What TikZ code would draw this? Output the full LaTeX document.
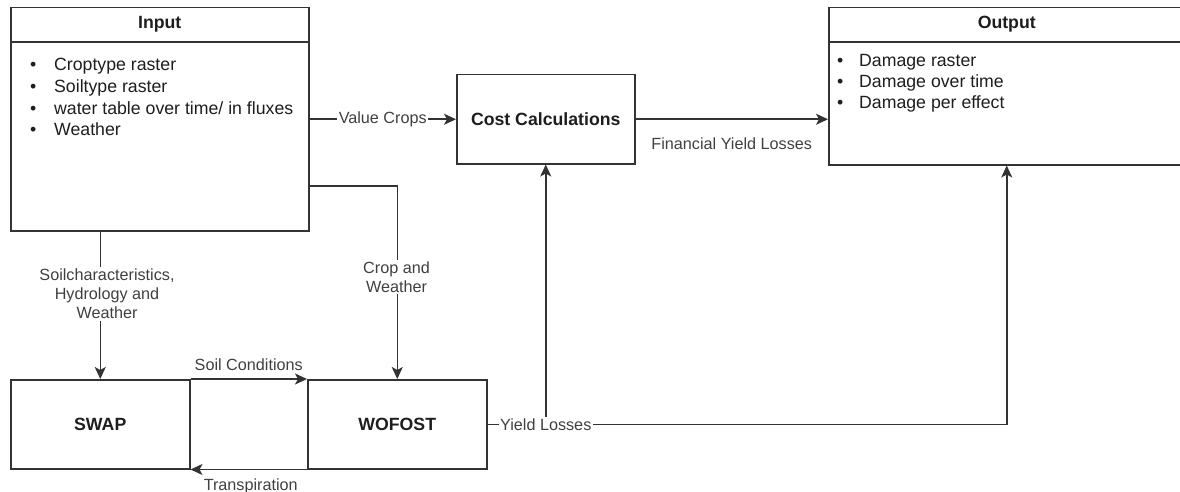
\documentclass[tikz,border=0pt]{standalone}
\usepackage{fontspec}
\setmainfont{Liberation Sans}
\usetikzlibrary{arrows.meta}
\definecolor{linec}{HTML}{333333}
\definecolor{boxtext}{HTML}{1E1E1E}
\definecolor{lbltext}{HTML}{404040}
\begin{document}
\begin{tikzpicture}[x=1pt,y=-1pt,
  box/.style={draw=linec, line width=1.5pt, fill=white, inner sep=0pt, anchor=north west},
  boxfont/.style={font=\fontsize{17.7}{21.5}\selectfont, text=boxtext},
  titlefont/.style={font=\fontsize{17.7}{21.5}\selectfont\bfseries, text=boxtext},
  item/.style={boxfont, anchor=base west, inner sep=0pt},
  lbl/.style={font=\fontsize{16.2}{19.2}\selectfont, text=lbltext, align=center, inner sep=1.5pt},
  lblw/.style={lbl, fill=white},
  conn/.style={draw=linec, line width=1.5pt},
  arr/.style={conn, -{Stealth[length=12pt,width=11pt,inset=3pt]}}
]
\useasboundingbox (0,0) rectangle (1180,492);

% Input box
\node[box, minimum width=298pt, minimum height=223pt] (input) at (10,7) {};
\draw[conn] ([yshift=-35pt]input.north west) -- ([yshift=-35pt]input.north east);
\node[titlefont] (inputtitle) at ([yshift=-17.5pt]input.north) {Input};
\node[item] (in1) at (30,71)    {\makebox[24pt][l]{\textbullet}Croptype raster};
\node[item] (in2) at (30,92.5)  {\makebox[24pt][l]{\textbullet}Soiltype raster};
\node[item] (in3) at (30,114)   {\makebox[24pt][l]{\textbullet}water table over time/ in fluxes};
\node[item] (in4) at (30,135.5) {\makebox[24pt][l]{\textbullet}Weather};

% Output box
\node[box, minimum width=356pt, minimum height=157pt] (output) at (828,7) {};
\draw[conn] ([yshift=-35pt]output.north west) -- ([yshift=-35pt]output.north east);
\node[titlefont] (outputtitle) at ([yshift=-17.5pt]output.north) {Output};
\node[item] (out1) at (837,67)  {\makebox[22pt][l]{\textbullet}Damage raster};
\node[item] (out2) at (837,88)  {\makebox[22pt][l]{\textbullet}Damage over time};
\node[item] (out3) at (837,109) {\makebox[22pt][l]{\textbullet}Damage per effect};

% Cost Calculations
\node[box, minimum width=178pt, minimum height=89pt, titlefont] (cost) at (456,74) {Cost Calculations};

% SWAP and WOFOST
\node[box, minimum width=179pt, minimum height=89pt, titlefont] (swap) at (10,379) {SWAP};
\node[box, minimum width=179pt, minimum height=89pt, titlefont] (wofost) at (307,379) {WOFOST};

% Connectors
\draw[arr] (input.east) -- (cost.west)
  node[lblw, midway] (vclbl) {Value Crops};

\draw[arr] (cost.east) -- (cost.east -| output.west)
  node[lbl, midway, yshift=-24pt] (fyllbl) {Financial Yield Losses};

\coordinate (cwturn) at (396.5,186);
\draw[arr] (input.east |- cwturn) -| (wofost.north);
\node[lblw] (cwlbl) at (396.5,277) {Crop and\\Weather};

\draw[arr] (input.south -| swap.north) -- (swap.north);
\node[lblw] (shwlbl) at (107,294) {Soilcharacteristics,\\Hydrology and\\Weather};

\draw[arr] (swap.north east) -- (wofost.north west)
  node[lbl, midway, yshift=14pt] (sclbl) {Soil Conditions};
\draw[arr] (wofost.south west) -- (swap.south east)
  node[lbl, midway, yshift=-17pt, xshift=2pt] (trlbl) {Transpiration};

\draw[arr] (wofost.east) -| (output.south);
\draw[arr] (cost.south |- wofost.east) -- (cost.south);
\node[lblw] (yllbl) at (cost.south |- wofost.east) {Yield Losses};
\end{tikzpicture}
\end{document}
